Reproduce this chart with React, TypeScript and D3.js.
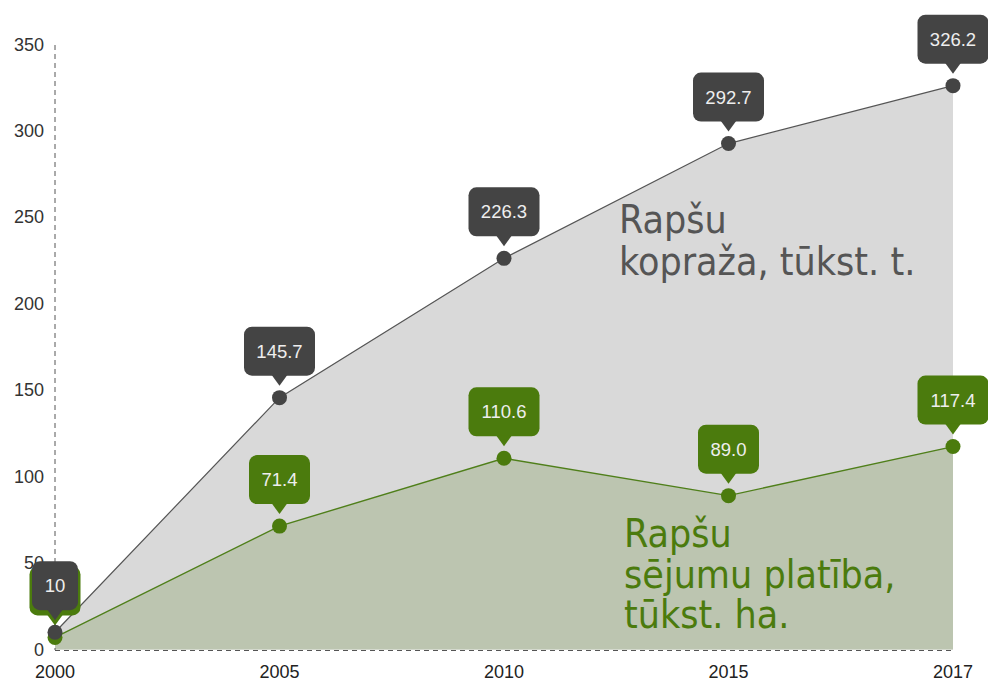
import React from "react";
import * as d3 from "d3";

const years = ["2000", "2005", "2010", "2015", "2017"];
const production = [10, 145.7, 226.3, 292.7, 326.2];
const area = [7, 71.4, 110.6, 89.0, 117.4];
const productionLabels = ["10", "145.7", "226.3", "292.7", "326.2"];
const areaLabels = ["7.0", "71.4", "110.6", "89.0", "117.4"];
const yTicks = [0, 50, 100, 150, 200, 250, 300, 350];

const W = 988;
const H = 682;
const GREY = "#444444";
const GREEN = "#4b7b0d";

function textWidth(s: string) {
  let w = 0;
  for (const c of s) w += c === "." ? 5 : 10;
  return w;
}

function Bubble({ x, y, label, color }: { x: number; y: number; label: string; color: string }) {
  const bw = textWidth(label) + 26;
  const top = y - 71;
  const bottom = y - 22;
  const tip = y - 12;
  return (
    <g>
      <rect x={x - bw / 2} y={top} width={bw} height={bottom - top} rx={8} fill={color} />
      <path d={`M${x - 8},${bottom - 1} L${x + 8},${bottom - 1} L${x},${tip} Z`} fill={color} />
      <text
        x={x}
        y={(top + bottom) / 2}
        textAnchor="middle"
        dominantBaseline="central"
        fontFamily="'Liberation Sans', Arial, sans-serif"
        fontSize={18.5}
        fill="#eeeeee"
      >
        {label}
      </text>
    </g>
  );
}

export default function App() {
  const x = d3.scalePoint<string>().domain(years).range([55, 953]);
  const y = d3.scaleLinear().domain([0, 350]).range([649.5, 44.5]);

  const areaGen = d3
    .area<number>()
    .x((_, i) => x(years[i]) as number)
    .y0(y(0))
    .y1((d) => y(d));
  const lineGen = d3
    .line<number>()
    .x((_, i) => x(years[i]) as number)
    .y((d) => y(d));

  const font = "'Liberation Sans', Arial, sans-serif";
  const annFont = "'DejaVu Sans Condensed', 'DejaVu Sans', sans-serif";

  return (
    <svg
      width={W}
      height={H}
      style={{ position: "absolute", left: 0, top: 0, background: "#ffffff" }}
    >
      <path d={areaGen(production) || ""} fill="#d9d9d9" />
      <path d={areaGen(area) || ""} fill="#bcc5b0" />
      <path d={lineGen(production) || ""} fill="none" stroke="#555555" strokeWidth={1.2} />
      <path d={lineGen(area) || ""} fill="none" stroke="#4f7f1a" strokeWidth={1.4} />

      <line x1={55} x2={55} y1={45} y2={650} stroke="#555" strokeDasharray="5,4" strokeWidth={1} />
      <line x1={55} x2={953} y1={650.5} y2={650.5} stroke="#555" strokeDasharray="5,4" strokeWidth={1} />

      {yTicks.map((t) => (
        <text
          key={t}
          x={44}
          y={y(t)}
          textAnchor="end"
          dominantBaseline="central"
          fontFamily={font}
          fontSize={18}
          fill="#333"
        >
          {t}
        </text>
      ))}
      {years.map((yr) => (
        <text
          key={yr}
          x={x(yr) as number}
          y={678}
          textAnchor="middle"
          fontFamily={font}
          fontSize={18}
          fill="#222"
        >
          {yr}
        </text>
      ))}

      <text fontFamily={annFont} fontSize={39} fill="#555555">
        <tspan x={619} y={233}>Rapšu</tspan>
        <tspan x={619} y={275}>kopraža, tūkst. t.</tspan>
      </text>
      <text fontFamily={annFont} fontSize={39} fill={GREEN}>
        <tspan x={624} y={547}>Rapšu</tspan>
        <tspan x={624} y={588}>sējumu platība,</tspan>
        <tspan x={624} y={628}>tūkst. ha.</tspan>
      </text>

      {area.map((v, i) => (
        <circle key={"ga" + i} cx={x(years[i]) as number} cy={y(v)} r={7.5} fill={GREEN} />
      ))}
      {area.map((v, i) => (
        <Bubble key={"gb" + i} x={x(years[i]) as number} y={y(v)} label={areaLabels[i]} color={GREEN} />
      ))}
      {production.map((v, i) => (
        <circle key={"pa" + i} cx={x(years[i]) as number} cy={y(v)} r={7.5} fill={GREY} />
      ))}
      {production.map((v, i) => (
        <Bubble key={"pb" + i} x={x(years[i]) as number} y={y(v)} label={productionLabels[i]} color={GREY} />
      ))}
    </svg>
  );
}
